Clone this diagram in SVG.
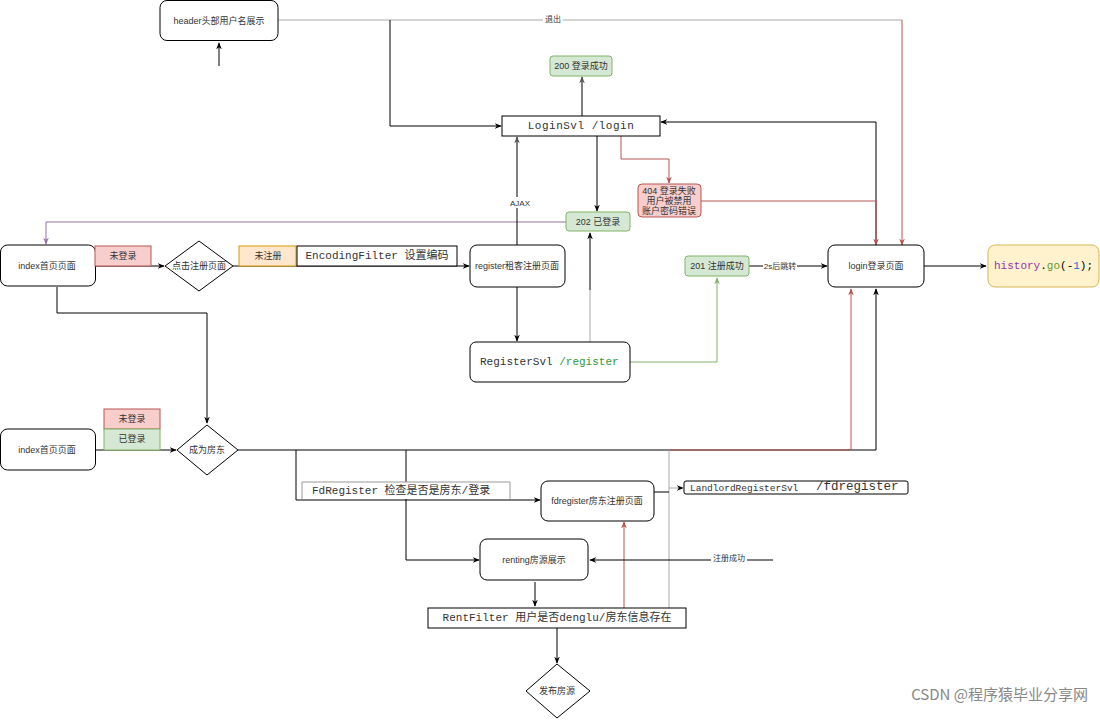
<svg xmlns="http://www.w3.org/2000/svg" width="1100" height="720" viewBox="0 0 1100 720">
<style>
.n{fill:#fff;stroke:#000;stroke-width:1}
.t{font-family:"Liberation Sans","Noto Sans CJK SC",sans-serif;font-size:9px;fill:#333;text-anchor:middle;dominant-baseline:central}
.s{font-size:8px}
.m{font-family:"Liberation Mono","DejaVu Sans Mono","Noto Sans CJK SC",monospace;font-size:11px;fill:#333;dominant-baseline:central}
.g{fill:#d5e8d4;stroke:#82b366}
.r{fill:#f8cecc;stroke:#b85450}
.o{fill:#ffe6cc;stroke:#d79b00}
.e{fill:none;stroke:#000;stroke-width:1}
.eg{fill:none;stroke:#aaa;stroke-width:1}
.er{fill:none;stroke:#b85450;stroke-width:1}
.egr{fill:none;stroke:#82b366;stroke-width:1}
.ep{fill:none;stroke:#9673a6;stroke-width:1}
.lb{fill:#fff}
</style>
<defs>
<marker id="a" viewBox="0 0 10 10" refX="9" refY="5" markerWidth="7" markerHeight="7" orient="auto"><path d="M0,1L10,5L0,9L3,5z" fill="#000"/></marker>
<marker id="ar" viewBox="0 0 10 10" refX="9" refY="5" markerWidth="7" markerHeight="7" orient="auto"><path d="M0,1L10,5L0,9L3,5z" fill="#b85450"/></marker>
<marker id="ag" viewBox="0 0 10 10" refX="9" refY="5" markerWidth="7" markerHeight="7" orient="auto"><path d="M0,1L10,5L0,9L3,5z" fill="#82b366"/></marker>
<marker id="ap" viewBox="0 0 10 10" refX="9" refY="5" markerWidth="7" markerHeight="7" orient="auto"><path d="M0,1L10,5L0,9L3,5z" fill="#9673a6"/></marker>
<marker id="agr" viewBox="0 0 10 10" refX="9" refY="5" markerWidth="7" markerHeight="7" orient="auto"><path d="M0,1L10,5L0,9L3,5z" fill="#555"/></marker>
</defs>
<rect width="1100" height="720" fill="#fff"/>

<g id="connectors">
<path class="e" d="M219,66V43" marker-end="url(#a)"/>
<path class="eg" d="M278,20H902"/>
<rect x="543" y="14" width="20" height="11" class="lb"/>
<text class="t s" x="553" y="19">退出</text>
<path class="er" d="M902,20V245" marker-end="url(#ar)"/>
<path class="e" d="M390,20V126H501" marker-end="url(#a)"/>
<path class="e" d="M582,116V77" marker-end="url(#agr)"/>
<path class="er" d="M621,136V159H669V183" marker-end="url(#ar)"/>
<path class="e" d="M876,245V122H661" marker-end="url(#a)"/>
<path class="er" d="M701,201H876V245" marker-end="url(#ar)"/>
<path class="e" d="M597,136V211" marker-end="url(#a)"/>
<path class="ep" d="M566,222H46V244" marker-end="url(#ap)"/>
<path class="e" d="M517,245V137" marker-end="url(#agr)"/>
<rect x="509" y="197" width="22" height="11" class="lb"/>
<text class="t s" x="520" y="203">AJAX</text>
<path class="eg" d="M590,342V290"/>
<path class="e" d="M590,290V233" marker-end="url(#a)"/>
<path class="e" d="M95,266H164" marker-end="url(#a)"/>
<path class="e" d="M233,266H469" marker-end="url(#a)"/>
<path class="e" d="M517,287V341" marker-end="url(#a)"/>
<path class="egr" d="M630,362H717V278" marker-end="url(#ag)"/>
<path class="e" d="M749,266H827" marker-end="url(#a)"/>
<rect x="763" y="261" width="34" height="10" class="lb"/>
<text class="t s" x="780" y="266">2s后跳转</text>
<path class="e" d="M924,266H986" marker-end="url(#a)"/>
<path class="e" d="M57,287V313H207V423" marker-end="url(#a)"/>
<path class="e" d="M95,450H176" marker-end="url(#a)"/>
<path class="e" d="M238,450H876V289" marker-end="url(#a)"/>
<path class="eg" d="M669,608V450"/>
<path class="er" d="M669,450H851V289" marker-end="url(#ar)"/>
<path class="e" d="M296,450V500H540" marker-end="url(#a)"/>
<path class="e" d="M406,450V560H479" marker-end="url(#a)"/>
<path class="e" d="M654,492H669"/>
<path class="eg" d="M669,488H683" marker-end="url(#a)"/>
<path class="er" d="M624,608V522" marker-end="url(#ar)"/>
<path class="e" d="M773,560H590" marker-end="url(#a)"/>
<rect x="711" y="553" width="36" height="11" class="lb"/>
<text class="t s" x="729" y="558">注册成功</text>
<path class="e" d="M535,582V606" marker-end="url(#a)"/>
<path class="e" d="M557,628V663" marker-end="url(#a)"/>
</g>

<g id="header"><rect class="n" x="160" y="0.5" width="118" height="40" rx="7"/><text class="t" x="219" y="21">header头部用户名展示</text></g>
<g id="loginsvl"><rect class="n" x="502" y="116" width="158" height="20"/><text class="m" x="581" y="126" text-anchor="middle" letter-spacing="0.5">LoginSvl /login</text></g>
<g id="ok200"><rect class="g" x="550" y="56" width="62" height="20" rx="3"/><text class="t" x="581" y="66">200 登录成功</text></g>
<g id="fail404"><rect class="r" x="638" y="184" width="63" height="33" rx="4"/><text class="t" x="669" y="191">404 登录失败</text><text class="t" x="669" y="201">用户被禁用</text><text class="t" x="669" y="211">账户密码错误</text></g>
<g id="s202"><rect class="g" x="566" y="212" width="64" height="19" rx="3"/><text class="t" x="598" y="222">202 已登录</text></g>
<g id="index1"><rect class="n" x="0.5" y="245" width="95" height="41" rx="7"/><text class="t" x="47" y="266">index首页页面</text></g>
<g id="lbl-nologin1"><rect class="r" x="95" y="246" width="56" height="20"/><text class="t" x="123" y="256">未登录</text></g>
<g id="d-reg"><path class="n" d="M199,241L233,266L199,291L165,266Z"/><text class="t" x="199" y="266">点击注册页面</text></g>
<g id="lbl-noreg"><rect class="o" x="239" y="246" width="57" height="20"/><text class="t" x="268" y="256">未注册</text></g>
<g id="encfilter"><rect class="n" x="297" y="246" width="160" height="20"/><text class="m" x="377" y="256" text-anchor="middle">EncodingFilter 设置编码</text></g>
<g id="register"><rect class="n" x="470" y="245" width="95" height="42" rx="7"/><text class="t" x="517" y="266">register租客注册页面</text></g>
<g id="registersvl"><rect class="n" x="470" y="342" width="160" height="40" rx="6"/><text class="m" x="480" y="362">RegisterSvl <tspan fill="#2e9a3a">/register</tspan></text></g>
<g id="s201"><rect class="g" x="685" y="256" width="64" height="20" rx="3"/><text class="t" x="717" y="266">201 注册成功</text></g>
<g id="login"><rect class="n" x="828" y="245" width="96" height="42" rx="7"/><text class="t" x="876" y="266">login登录页面</text></g>
<g id="history"><rect x="988" y="245" width="111" height="42" rx="7" fill="#fff2cc" stroke="#d6b656"/><text class="m" x="994" y="266"><tspan fill="#9b30b0">history</tspan><tspan fill="#000">.</tspan><tspan fill="#6a9a2a">go</tspan><tspan fill="#000">(-</tspan><tspan fill="#1a6ad8">1</tspan><tspan fill="#000">);</tspan></text></g>
<g id="index2"><rect class="n" x="0.5" y="429" width="95" height="41" rx="7"/><text class="t" x="47" y="450">index首页页面</text></g>
<g id="lbl-nologin2"><rect class="r" x="104" y="409" width="56" height="20"/><text class="t" x="132" y="419">未登录</text></g>
<g id="lbl-login2"><rect class="g" x="104" y="429" width="56" height="21"/><text class="t" x="132" y="439">已登录</text></g>
<g id="d-fd"><path class="n" d="M207,425L238,450L207,475L177,450Z"/><text class="t" x="207" y="450">成为房东</text></g>
<g id="fdfilter"><path d="M302,499V482H510V499" fill="#fff" stroke="#999"/><text class="m" x="312" y="491">FdRegister 检查是否是房东/登录</text></g>
<g id="fdregister"><rect class="n" x="541" y="481" width="113" height="40" rx="7"/><text class="t" x="597" y="501">fdregister房东注册页面</text></g>
<g id="landlordsvl"><rect class="n" x="684" y="481" width="224" height="13" rx="2"/><text class="m" x="690" y="488" style="font-size:9.5px">LandlordRegisterSvl</text><text class="m" x="816" y="487" style="font-size:12.5px">/fdregister</text></g>
<g id="renting"><rect class="n" x="480" y="539" width="108" height="41" rx="7"/><text class="t" x="534" y="560">renting房源展示</text></g>
<g id="rentfilter"><rect class="n" x="428" y="608" width="258" height="20"/><text class="m" x="557" y="618" text-anchor="middle">RentFilter 用户是否denglu/房东信息存在</text></g>
<g id="d-pub"><path class="n" d="M557,664L590,691L557,718L526,691Z"/><text class="t" x="557" y="691">发布房源</text></g>
<text x="1088" y="700" font-family="'Noto Sans CJK SC','Liberation Sans',sans-serif" font-size="15" fill="#888" text-anchor="end">CSDN @程序猿毕业分享网</text>
</svg>
